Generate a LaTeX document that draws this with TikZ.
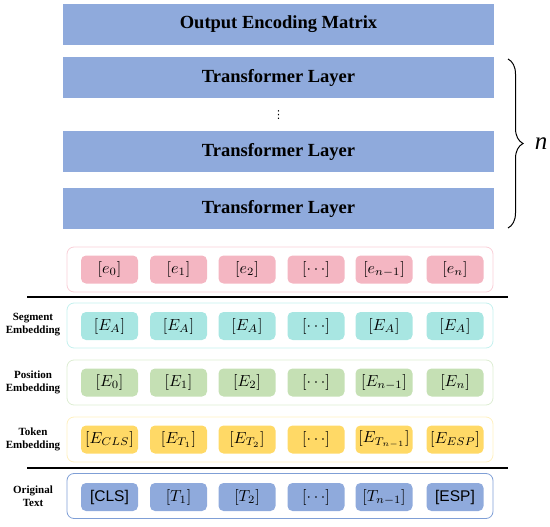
\documentclass[tikz,border=0pt]{standalone}
\usepackage{graphicx}
\usepackage{fontspec}
\setmainfont{Liberation Serif}
\setsansfont{Liberation Sans}
\newfontfamily\dejavu{DejaVu Sans}
\usetikzlibrary{decorations.pathreplacing}
\newcommand{\cm}[1]{\scalebox{1.6}{$#1$}}
\definecolor{barblue}{HTML}{8FAADC}
\definecolor{cpink}{HTML}{F4B6C2}
\definecolor{bpink}{HTML}{F9D0D8}
\definecolor{cteal}{HTML}{A8E6E2}
\definecolor{bteal}{HTML}{C4F0EE}
\definecolor{cgreen}{HTML}{C5E0B4}
\definecolor{bgreen}{HTML}{DDEDD3}
\definecolor{cyel}{HTML}{FFD966}
\definecolor{byel}{HTML}{FFF0C0}
\definecolor{cblue}{HTML}{8FAADC}
\definecolor{bblue}{HTML}{7F9FD6}
\begin{document}
\begin{tikzpicture}[x=1pt,y=-1pt,
  bar/.style={fill=barblue,minimum width=431pt,minimum height=41pt,inner sep=0pt,font=\fontsize{18.5}{20}\selectfont\bfseries},
  outer/.style={draw=#1,line width=0.8pt,rounded corners=7pt,minimum width=426pt,minimum height=45pt,inner sep=0pt},
  cell/.style={fill=#1,rounded corners=5pt,minimum width=57pt,minimum height=28pt,inner sep=0pt},
  lab/.style={align=center,font=\fontsize{11}{13}\selectfont\bfseries},
  sep/.style={line width=1.6pt}]
\useasboundingbox (0,0) rectangle (550,527);
% top bars
\node[bar] (out) at (278.5,24.5) {Output Encoding Matrix};
\node[bar] (tl1) at (278.5,77.5) {Transformer Layer};
\node[font=\dejavu\fontsize{11}{12}\selectfont,inner sep=0pt] (vd) at (278.5,115) {⋮};
\node[bar] (tl2) at (278.5,151.5) {Transformer Layer};
\node[bar] (tl3) at (278.5,209) {Transformer Layer};
\coordinate (bt) at (508,59);
\coordinate (bb) at (508,228);
\draw[line width=1pt,decorate,decoration={brace,amplitude=15pt,aspect=0.5}] (bt) -- (bb);
\node[font=\fontsize{25}{27}\selectfont\itshape] (n) at (541,144) {n};
% outer rows
\node[outer=bpink] (rowe) at (280,269.5) {};
\node[outer=bteal] (rows) at (280,325.5) {};
\node[outer=bgreen] (rowp) at (280,382.5) {};
\node[outer=byel] (rowt) at (280,439.5) {};
\node[outer=bblue] (rowo) at (280,496) {};
% separators
\coordinate (s1a) at (27,297); \coordinate (s1b) at (508,297);
\coordinate (s2a) at (27,468); \coordinate (s2b) at (508,468);
\draw[sep] (s1a) -- (s1b);
\draw[sep] (s2a) -- (s2b);
% labels
\node[lab] (ls) at (33,325) {Segment\\Embedding};
\node[lab] (lp) at (33,382) {Position\\Embedding};
\node[lab] (lt) at (33,439) {Token\\Embedding};
\node[lab] (lo) at (33,496) {Original\\Text};
% cells
\foreach \x/\t [count=\i] in {109.5/{\cm{[e_0]}},178.5/{\cm{[e_1]}},247/{\cm{[e_2]}},316/{\cm{[\cdots]}},384/{\cm{[e_{n-1}]}},455/{\cm{[e_n]}}}
  \node[cell=cpink] (e\i) at (\x,269.5) {\t};
\foreach \x/\t [count=\i] in {109.5/{\cm{[E_A]}},178.5/{\cm{[E_A]}},247/{\cm{[E_A]}},316/{\cm{[\cdots]}},384/{\cm{[E_A]}},455/{\cm{[E_A]}}}
  \node[cell=cteal] (s\i) at (\x,326) {\t};
\foreach \x/\t [count=\i] in {109.5/{\cm{[E_0]}},178.5/{\cm{[E_1]}},247/{\cm{[E_2]}},316/{\cm{[\cdots]}},384/{\cm{[E_{n-1}]}},455/{\cm{[E_n]}}}
  \node[cell=cgreen] (p\i) at (\x,382.5) {\t};
\foreach \x/\t [count=\i] in {109.5/{\cm{[E_{CLS}]}},178.5/{\cm{[E_{T_1}]}},247/{\cm{[E_{T_2}]}},316/{\cm{[\cdots]}},384/{\cm{[E_{T_{n-1}}]}},455/{\cm{[E_{ESP}]}}}
  \node[cell=cyel] (t\i) at (\x,439.5) {\t};
\foreach \x/\t [count=\i] in {109.5/{\fontsize{15.5}{17}\selectfont\sffamily[CLS]},178.5/{\cm{[T_1]}},247/{\cm{[T_2]}},316/{\cm{[\cdots]}},384/{\cm{[T_{n-1}]}},455/{\fontsize{15.5}{17}\selectfont\sffamily[ESP]}}
  \node[cell=cblue] (o\i) at (\x,497) {\t};
\end{tikzpicture}
\end{document}
